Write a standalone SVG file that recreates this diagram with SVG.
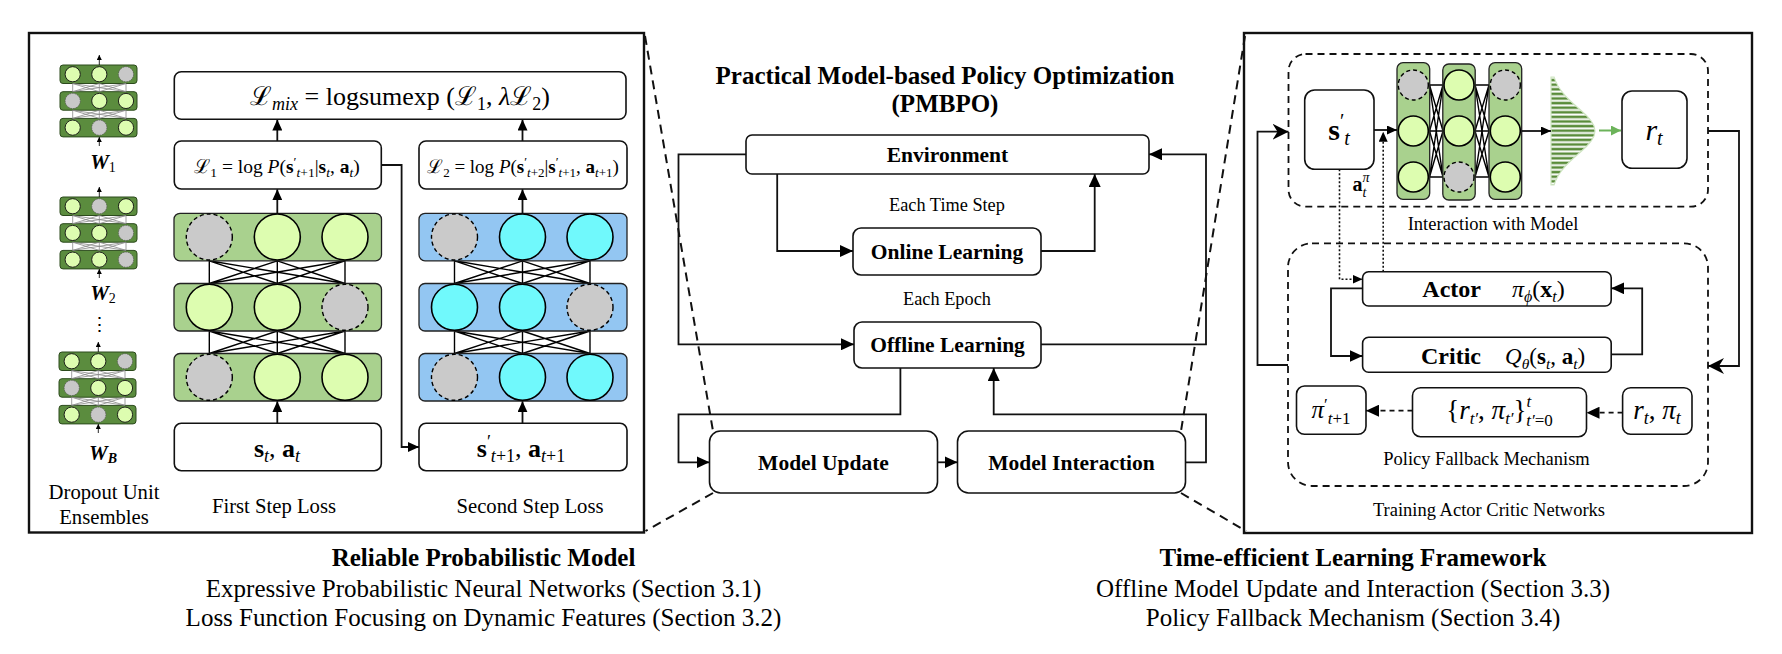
<svg xmlns="http://www.w3.org/2000/svg" xmlns:xlink="http://www.w3.org/1999/xlink" width="1782" height="654" viewBox="0 0 1782 654">
<style>
.t{font-family:"Liberation Serif","Times New Roman","DejaVu Serif",serif;fill:#000}
.b{font-weight:bold}
.i{font-style:italic}
.box{fill:#fff;stroke:#111;stroke-width:1.6}
.panel{fill:#fff;stroke:#111;stroke-width:2.4}
.conn{fill:none;stroke:#111;stroke-width:1.8}
.dash{fill:none;stroke:#111;stroke-width:2;stroke-dasharray:9 6}
.dbox{fill:none;stroke:#111;stroke-width:1.8;stroke-dasharray:7 5}
.dot{fill:none;stroke:#111;stroke-width:1.6;stroke-dasharray:2 2}
.glay{fill:#a9d18e;stroke:#222;stroke-width:1.3}
.blay{fill:#93c6f2;stroke:#222;stroke-width:1.3}
.gc{fill:#ddfdb0;stroke:#000;stroke-width:1.6}
.cc{fill:#70f9fc;stroke:#000;stroke-width:1.6}
.xc{fill:#cacaca;stroke:#000;stroke-width:1.4;stroke-dasharray:4 3}
.wire{fill:none;stroke:#000;stroke-width:1.4}
.mrow{fill:#5b8c3e;stroke:#2c4a1c;stroke-width:1}
.mg{fill:#ddfdb0;stroke:#111;stroke-width:0.9}
.mx{fill:#c8c8c8;stroke:#555;stroke-width:0.8;stroke-dasharray:1.5 1}
.mwire{fill:none;stroke:#888;stroke-width:0.8}
.marr{fill:none;stroke:#111;stroke-width:0.9}
</style>
<defs>
<marker id="am" viewBox="0 0 13 12" refX="13" refY="6" markerWidth="13" markerHeight="12" markerUnits="userSpaceOnUse" orient="auto"><path d="M0,0L13,6L0,12z" fill="#000"/></marker>
<marker id="al" viewBox="0 0 11 10" refX="11" refY="5" markerWidth="11" markerHeight="10" markerUnits="userSpaceOnUse" orient="auto"><path d="M0,0L11,5L0,10z" fill="#000"/></marker>
<marker id="as" viewBox="0 0 10 9" refX="10" refY="4.5" markerWidth="10" markerHeight="9" markerUnits="userSpaceOnUse" orient="auto"><path d="M0,0L10,4.5L0,9z" fill="#000"/></marker>
<marker id="ast" viewBox="0 0 16 16" refX="16" refY="8" markerWidth="16" markerHeight="16" markerUnits="userSpaceOnUse" orient="auto"><path d="M0,0L16,8L0,16L5,8z" fill="#000"/></marker>
<marker id="ag" viewBox="0 0 10 10" refX="10" refY="5" markerWidth="10" markerHeight="10" markerUnits="userSpaceOnUse" orient="auto"><path d="M0,0L10,5L0,10z" fill="#6cb35a"/></marker>
<marker id="ami" viewBox="0 0 6 6" refX="6" refY="3" markerWidth="5" markerHeight="5" markerUnits="userSpaceOnUse" orient="auto"><path d="M0,0L6,3L0,6z" fill="#000"/></marker>
<pattern id="stripes" width="6" height="4.6" patternUnits="userSpaceOnUse"><rect width="6" height="4.6" fill="#ffffff"/><rect y="0.6" width="6" height="2.6" fill="#5a8c3a"/></pattern>
<g id="mnBase">
<rect class="mrow" x="0" y="0" width="77" height="18.5" rx="3"/>
<rect class="mrow" x="0" y="26.7" width="77" height="18.5" rx="3"/>
<rect class="mrow" x="0" y="53.4" width="77" height="18.5" rx="3"/>
<path class="mwire" d="M12.7,18.5L12.7,26.7M12.7,18.5L39.3,26.7M12.7,18.5L66,26.7M39.3,18.5L12.7,26.7M39.3,18.5L39.3,26.7M39.3,18.5L66,26.7M66,18.5L12.7,26.7M66,18.5L39.3,26.7M66,18.5L66,26.7M12.7,45.2L12.7,53.4M12.7,45.2L39.3,53.4M12.7,45.2L66,53.4M39.3,45.2L12.7,53.4M39.3,45.2L39.3,53.4M39.3,45.2L66,53.4M66,45.2L12.7,53.4M66,45.2L39.3,53.4M66,45.2L66,53.4"/>
<path class="marr" d="M39.3,0L39.3,-10" marker-end="url(#ami)"/>
<path class="marr" d="M39.3,81L39.3,72" marker-end="url(#ami)"/>
</g>
</defs>
<rect width="1782" height="654" fill="#fff"/>

<!-- LEFT PANEL -->
<g id="panel-left">
<rect class="panel" x="29" y="33" width="615" height="499.5"/>
</g>

<g id="ensembles">
<g id="mininet-1" transform="translate(60,65)">
<use xlink:href="#mnBase" href="#mnBase"/>
<circle class="mg" cx="12.7" cy="9.25" r="7.6"/><circle class="mg" cx="39.3" cy="9.25" r="7.6"/><circle class="mx" cx="66" cy="9.25" r="7.6"/>
<circle class="mx" cx="12.7" cy="35.95" r="7.6"/><circle class="mg" cx="39.3" cy="35.95" r="7.6"/><circle class="mg" cx="66" cy="35.95" r="7.6"/>
<circle class="mg" cx="12.7" cy="62.65" r="7.6"/><circle class="mx" cx="39.3" cy="62.65" r="7.6"/><circle class="mg" cx="66" cy="62.65" r="7.6"/>
</g>
<g id="mininet-2" transform="translate(60,197)">
<use xlink:href="#mnBase" href="#mnBase"/>
<circle class="mg" cx="12.7" cy="9.25" r="7.6"/><circle class="mx" cx="39.3" cy="9.25" r="7.6"/><circle class="mg" cx="66" cy="9.25" r="7.6"/>
<circle class="mg" cx="12.7" cy="35.95" r="7.6"/><circle class="mg" cx="39.3" cy="35.95" r="7.6"/><circle class="mx" cx="66" cy="35.95" r="7.6"/>
<circle class="mg" cx="12.7" cy="62.65" r="7.6"/><circle class="mg" cx="39.3" cy="62.65" r="7.6"/><circle class="mx" cx="66" cy="62.65" r="7.6"/>
</g>
<g id="mininet-3" transform="translate(59,352)">
<use xlink:href="#mnBase" href="#mnBase"/>
<circle class="mg" cx="12.7" cy="9.25" r="7.6"/><circle class="mg" cx="39.3" cy="9.25" r="7.6"/><circle class="mx" cx="66" cy="9.25" r="7.6"/>
<circle class="mx" cx="12.7" cy="35.95" r="7.6"/><circle class="mg" cx="39.3" cy="35.95" r="7.6"/><circle class="mg" cx="66" cy="35.95" r="7.6"/>
<circle class="mg" cx="12.7" cy="62.65" r="7.6"/><circle class="mx" cx="39.3" cy="62.65" r="7.6"/><circle class="mg" cx="66" cy="62.65" r="7.6"/>
</g>
<text class="t b i" x="103" y="169" font-size="21" text-anchor="middle">W<tspan font-size="14" font-style="normal" font-weight="normal" dy="3">1</tspan></text>
<text class="t b i" x="103" y="300" font-size="21" text-anchor="middle">W<tspan font-size="14" font-style="normal" font-weight="normal" dy="3">2</tspan></text>
<text class="t" x="99" y="331" font-size="19" text-anchor="middle" font-family="DejaVu Serif">⋮</text>
<text class="t b i" x="103" y="460" font-size="21" text-anchor="middle">W<tspan font-size="14" dy="3">B</tspan></text>
<text class="t" x="104" y="498.5" font-size="20.7" text-anchor="middle">Dropout Unit</text>
<text class="t" x="104" y="523.5" font-size="20.7" text-anchor="middle">Ensembles</text>
</g>

<g id="mix-loss">
<rect class="box" x="174.3" y="71.7" width="451.7" height="47.6" rx="7"/>
<text class="t" x="400" y="105" font-size="26" text-anchor="middle">ℒ<tspan class="i" font-size="18" dy="5">mix</tspan><tspan dy="-5"> = logsumexp (ℒ</tspan><tspan font-size="18" dy="5">1</tspan><tspan dy="-5">, </tspan><tspan class="i">λ</tspan>ℒ<tspan font-size="18" dy="5">2</tspan><tspan dy="-5">)</tspan></text>
</g>

<g id="loss-1">
<rect class="box" x="174.3" y="141" width="207" height="48" rx="7"/>
<text class="t" x="277" y="172.5" font-size="19.5" text-anchor="middle">ℒ<tspan font-size="13.5" dy="4">1</tspan><tspan dy="-4"> = log </tspan><tspan class="i">P</tspan>(<tspan class="b">s</tspan><tspan font-size="13.5" dy="-7">′</tspan><tspan font-size="13.5" class="i" dy="11">t</tspan><tspan font-size="13.5">+1</tspan><tspan dy="-4">|</tspan><tspan class="b">s</tspan><tspan font-size="13.5" class="i" dy="4">t</tspan><tspan dy="-4">, </tspan><tspan class="b">a</tspan><tspan font-size="13.5" class="i" dy="4">t</tspan><tspan dy="-4">)</tspan></text>
</g>

<g id="loss-2">
<rect class="box" x="419" y="141" width="208" height="48" rx="7"/>
<text class="t" x="523" y="172.5" font-size="19" text-anchor="middle">ℒ<tspan font-size="13" dy="4">2</tspan><tspan dy="-4"> = log </tspan><tspan class="i">P</tspan>(<tspan class="b">s</tspan><tspan font-size="13" dy="-7">′</tspan><tspan font-size="13" class="i" dy="11">t</tspan><tspan font-size="13">+2</tspan><tspan dy="-4">|</tspan><tspan class="b">s</tspan><tspan font-size="13" dy="-7">′</tspan><tspan font-size="13" class="i" dy="11">t</tspan><tspan font-size="13">+1</tspan><tspan dy="-4">, </tspan><tspan class="b">a</tspan><tspan font-size="13" class="i" dy="4">t</tspan><tspan font-size="13" dy="0">+1</tspan><tspan dy="-4">)</tspan></text>
</g>

<g id="net-green">
<path class="wire" d="M209.3,260.8L209.3,283.5M209.3,260.8L277.3,283.5M209.3,260.8L345,283.5M277.3,260.8L209.3,283.5M277.3,260.8L277.3,283.5M277.3,260.8L345,283.5M345,260.8L209.3,283.5M345,260.8L277.3,283.5M345,260.8L345,283.5M209.3,331L209.3,353.5M209.3,331L277.3,353.5M209.3,331L345,353.5M277.3,331L209.3,353.5M277.3,331L277.3,353.5M277.3,331L345,353.5M345,331L209.3,353.5M345,331L277.3,353.5M345,331L345,353.5"/>
<rect class="glay" x="174" y="213.3" width="207.5" height="47.5" rx="6"/>
<rect class="glay" x="174" y="283.5" width="207.5" height="47.5" rx="6"/>
<rect class="glay" x="174" y="353.5" width="207.5" height="47.5" rx="6"/>
<circle class="xc" cx="209.3" cy="237" r="23"/><circle class="gc" cx="277.3" cy="237" r="23"/><circle class="gc" cx="345" cy="237" r="23"/>
<circle class="gc" cx="209.3" cy="307.3" r="23"/><circle class="gc" cx="277.3" cy="307.3" r="23"/><circle class="xc" cx="345" cy="307.3" r="23"/>
<circle class="xc" cx="209.3" cy="377.3" r="23"/><circle class="gc" cx="277.3" cy="377.3" r="23"/><circle class="gc" cx="345" cy="377.3" r="23"/>
</g>

<g id="net-blue">
<path class="wire" d="M454.5,260.8L454.5,283.5M454.5,260.8L522.5,283.5M454.5,260.8L590,283.5M522.5,260.8L454.5,283.5M522.5,260.8L522.5,283.5M522.5,260.8L590,283.5M590,260.8L454.5,283.5M590,260.8L522.5,283.5M590,260.8L590,283.5M454.5,331L454.5,353.5M454.5,331L522.5,353.5M454.5,331L590,353.5M522.5,331L454.5,353.5M522.5,331L522.5,353.5M522.5,331L590,353.5M590,331L454.5,353.5M590,331L522.5,353.5M590,331L590,353.5"/>
<rect class="blay" x="419" y="213.3" width="208" height="47.5" rx="6"/>
<rect class="blay" x="419" y="283.5" width="208" height="47.5" rx="6"/>
<rect class="blay" x="419" y="353.5" width="208" height="47.5" rx="6"/>
<circle class="xc" cx="454.5" cy="237" r="23"/><circle class="cc" cx="522.5" cy="237" r="23"/><circle class="cc" cx="590" cy="237" r="23"/>
<circle class="cc" cx="454.5" cy="307.3" r="23"/><circle class="cc" cx="522.5" cy="307.3" r="23"/><circle class="xc" cx="590" cy="307.3" r="23"/>
<circle class="xc" cx="454.5" cy="377.3" r="23"/><circle class="cc" cx="522.5" cy="377.3" r="23"/><circle class="cc" cx="590" cy="377.3" r="23"/>
</g>

<g id="input-1">
<rect class="box" x="174.3" y="423.3" width="207" height="47.4" rx="7"/>
<text class="t" x="277" y="457" font-size="26" text-anchor="middle"><tspan class="b">s</tspan><tspan class="i" font-size="18" dy="5">t</tspan><tspan dy="-5">, </tspan><tspan class="b">a</tspan><tspan class="i" font-size="18" dy="5">t</tspan></text>
</g>
<g id="input-2">
<rect class="box" x="419" y="423.3" width="208" height="47.4" rx="7"/>
<text class="t" x="521" y="457" font-size="26" text-anchor="middle"><tspan class="b">s</tspan><tspan font-size="18" dy="-9">′</tspan><tspan class="i" font-size="18" dy="14">t</tspan><tspan font-size="18">+1</tspan><tspan dy="-5">, </tspan><tspan class="b">a</tspan><tspan class="i" font-size="18" dy="5">t</tspan><tspan font-size="18">+1</tspan></text>
</g>
<text class="t" x="274" y="513" font-size="20.7" text-anchor="middle">First Step Loss</text>
<text class="t" x="530" y="513" font-size="20.7" text-anchor="middle">Second Step Loss</text>

<!-- MIDDLE -->
<g id="title">
<text class="t b" x="945" y="84" font-size="25" text-anchor="middle">Practical Model-based Policy Optimization</text>
<text class="t b" x="945" y="111.5" font-size="25" text-anchor="middle">(PMBPO)</text>
</g>
<g id="environment">
<rect class="box" x="746" y="135" width="403" height="39" rx="6"/>
<text class="t b" x="947.5" y="161.5" font-size="21.5" text-anchor="middle">Environment</text>
</g>
<g id="online-learning">
<rect class="box" x="853" y="228" width="188" height="47" rx="8"/>
<text class="t b" x="947" y="258.5" font-size="21.5" text-anchor="middle">Online Learning</text>
</g>
<g id="offline-learning">
<rect class="box" x="854" y="322" width="187" height="46" rx="8"/>
<text class="t b" x="947.5" y="351.5" font-size="21.5" text-anchor="middle">Offline Learning</text>
</g>
<g id="model-update">
<rect class="box" x="709.5" y="431" width="228" height="62" rx="11"/>
<text class="t b" x="823.5" y="469.5" font-size="21.5" text-anchor="middle">Model Update</text>
</g>
<g id="model-interaction">
<rect class="box" x="957.5" y="431" width="228" height="62" rx="11"/>
<text class="t b" x="1071.5" y="469.5" font-size="21.5" text-anchor="middle">Model Interaction</text>
</g>
<text class="t" x="947" y="211" font-size="18.3" text-anchor="middle">Each Time Step</text>
<text class="t" x="947" y="304.5" font-size="18.3" text-anchor="middle">Each Epoch</text>

<!-- RIGHT PANEL -->
<g id="panel-right">
<rect class="panel" x="1244" y="33" width="508" height="500"/>
<rect class="dbox" x="1288.5" y="54" width="419.5" height="152.7" rx="17"/>
<rect class="dbox" x="1288" y="243.3" width="420" height="242.7" rx="24"/>
<text class="t" x="1493" y="229.5" font-size="18.5" text-anchor="middle">Interaction with Model</text>
<text class="t" x="1486.5" y="465" font-size="18.5" text-anchor="middle">Policy Fallback Mechanism</text>
<text class="t" x="1489" y="515.5" font-size="18.5" text-anchor="middle">Training Actor Critic Networks</text>
</g>
<g id="state-box">
<rect class="box" x="1304.7" y="90" width="69.3" height="79.3" rx="10"/>
<text class="t" x="1339" y="140" font-size="30" text-anchor="middle"><tspan class="b">s</tspan><tspan font-size="20" dy="-12">′</tspan><tspan class="i" font-size="20" dy="17">t</tspan></text>
</g>
<g id="model-net">
<path class="wire" d="M1429.5,85L1443,85M1429.5,85L1443,131M1429.5,85L1443,177M1429.5,131L1443,85M1429.5,131L1443,131M1429.5,131L1443,177M1429.5,177L1443,85M1429.5,177L1443,131M1429.5,177L1443,177M1475,85L1489,85M1475,85L1489,131M1475,85L1489,177M1475,131L1489,85M1475,131L1489,131M1475,131L1489,177M1475,177L1489,85M1475,177L1489,131M1475,177L1489,177"/>
<rect class="glay" x="1397" y="62.7" width="32.7" height="136.6" rx="6"/>
<rect class="glay" x="1442.8" y="64" width="32.4" height="136" rx="6"/>
<rect class="glay" x="1489" y="62.7" width="32.7" height="136.6" rx="6"/>
<circle class="xc" cx="1413.3" cy="85" r="15"/><circle class="gc" cx="1413.3" cy="131" r="15"/><circle class="gc" cx="1413.3" cy="177" r="15"/>
<circle class="gc" cx="1459" cy="85" r="15"/><circle class="gc" cx="1459" cy="131" r="15"/><circle class="xc" cx="1459" cy="177" r="15"/>
<circle class="xc" cx="1505.3" cy="85" r="15"/><circle class="gc" cx="1505.3" cy="131" r="15"/><circle class="gc" cx="1505.3" cy="177" r="15"/>
</g>
<g id="gaussian">
<path d="M1551,77L1554.1,77L1555.5,81L1558,86L1561.3,91L1565.4,96L1570.4,101L1575.9,106L1581.6,111L1586.9,116L1591.2,121L1594,126L1595,131L1594,136L1591.2,141L1586.9,146L1581.6,151L1575.9,156L1570.4,161L1565.4,166L1561.3,171L1558,176L1555.5,181L1554.1,185L1551,185Z" fill="url(#stripes)" stroke="#cfe6c2" stroke-width="1.2"/>
</g>
<g id="reward-box">
<rect class="box" x="1622" y="91" width="65" height="77.3" rx="10"/>
<text class="t" x="1654" y="140" font-size="30" text-anchor="middle"><tspan class="i">r</tspan><tspan class="i" font-size="20" dy="5">t</tspan></text>
</g>
<text class="t" x="1361" y="191" font-size="20" text-anchor="middle"><tspan class="b">a</tspan><tspan class="i" font-size="14" dy="-9">π</tspan><tspan class="i" font-size="14" dx="-7" dy="15">t</tspan></text>
<g id="actor">
<rect class="box" x="1362.6" y="271.7" width="248.6" height="34.3" rx="6"/>
<text class="t b" x="1481" y="297" font-size="24" text-anchor="end">Actor</text>
<text class="t" x="1512" y="297" font-size="24"><tspan class="i">π</tspan><tspan class="i" font-size="16" dy="5">ϕ</tspan><tspan dy="-5">(</tspan><tspan class="b">x</tspan><tspan class="i" font-size="16" dy="5">t</tspan><tspan dy="-5">)</tspan></text>
</g>
<g id="critic">
<rect class="box" x="1362.6" y="337.3" width="248.6" height="35" rx="6"/>
<text class="t b" x="1481" y="364" font-size="24" text-anchor="end">Critic</text>
<text class="t" x="1505" y="364" font-size="23"><tspan class="i">Q</tspan><tspan class="i" font-size="15.5" dy="5">θ</tspan><tspan dy="-5">(</tspan><tspan class="b">s</tspan><tspan class="i" font-size="15.5" dy="5">t</tspan><tspan dy="-5">, </tspan><tspan class="b">a</tspan><tspan class="i" font-size="15.5" dy="5">t</tspan><tspan dy="-5">)</tspan></text>
</g>
<g id="policy-next">
<rect class="box" x="1296.5" y="386" width="69.5" height="48.3" rx="8"/>
<text class="t" x="1331" y="418" font-size="25" text-anchor="middle"><tspan class="i">π</tspan><tspan font-size="17" dy="-8">′</tspan><tspan class="i" font-size="17" dy="14">t</tspan><tspan font-size="17">+1</tspan></text>
</g>
<g id="history">
<rect class="box" x="1412.5" y="387.7" width="174" height="49" rx="8"/>
<text class="t" x="1499.5" y="419" font-size="27" text-anchor="middle">{<tspan class="i">r</tspan><tspan class="i" font-size="17" dy="5">t′</tspan><tspan dy="-5">, </tspan><tspan class="i">π</tspan><tspan class="i" font-size="17" dy="5">t′</tspan><tspan dy="-5">}</tspan><tspan class="i" font-size="17" dy="-12">t</tspan><tspan class="i" font-size="17" dx="-5" dy="19">t′</tspan><tspan font-size="17">=0</tspan></text>
</g>
<g id="reward-policy">
<rect class="box" x="1622.6" y="387.7" width="69.4" height="46.6" rx="8"/>
<text class="t" x="1657" y="419" font-size="27" text-anchor="middle"><tspan class="i">r</tspan><tspan class="i" font-size="18" dy="5">t</tspan><tspan dy="-5">, </tspan><tspan class="i">π</tspan><tspan class="i" font-size="18" dy="5">t</tspan></text>
</g>

<!-- CONNECTORS -->
<g id="connectors">
<path class="conn" d="M277.3,141L277.3,119.5" marker-end="url(#al)"/>
<path class="conn" d="M522.5,141L522.5,119.5" marker-end="url(#al)"/>
<path class="conn" d="M277.3,213.3L277.3,189.2" marker-end="url(#al)"/>
<path class="conn" d="M522.5,213.3L522.5,189.2" marker-end="url(#al)"/>
<path class="conn" d="M277.3,423.3L277.3,401.2" marker-end="url(#al)"/>
<path class="conn" d="M522.5,423.3L522.5,401.2" marker-end="url(#al)"/>
<path class="conn" d="M381.3,165L401.6,165L401.6,447L419,447" marker-end="url(#al)"/>

<path class="conn" d="M746,154.3L678.5,154.3L678.5,344.3L854,344.3" marker-end="url(#am)"/>
<path class="conn" d="M777.2,174L777.2,251L853,251" marker-end="url(#am)"/>
<path class="conn" d="M1041,251L1094.7,251L1094.7,174" marker-end="url(#am)"/>
<path class="conn" d="M1041,344.3L1206,344.3L1206,154.3L1149,154.3" marker-end="url(#am)"/>
<path class="conn" d="M900.4,368L900.4,414.3L678.5,414.3L678.5,462.3L709.5,462.3" marker-end="url(#am)"/>
<path class="conn" d="M937.5,462.3L957.5,462.3" marker-end="url(#am)"/>
<path class="conn" d="M1185.5,462.3L1206,462.3L1206,414.3L993.7,414.3L993.7,368" marker-end="url(#am)"/>

<path class="dash" d="M645,36L713,431"/>
<path class="dash" d="M713,493L645.5,531"/>
<path class="dash" d="M1245,36L1181,431"/>
<path class="dash" d="M1181,493L1246,531"/>

<path class="conn" d="M1288,365L1257.5,365L1257.5,131.7L1288.5,131.7" marker-end="url(#ast)"/>
<path class="conn" d="M1708,131L1739,131L1739,366L1708,366" marker-end="url(#ast)"/>
<path class="conn" d="M1374,130L1397,130" marker-end="url(#as)"/>
<path class="conn" d="M1521.7,131L1551,131" marker-end="url(#as)"/>
<path fill="none" stroke="#6cb35a" stroke-width="2" d="M1599,130.5L1621,130.5" marker-end="url(#ag)"/>
<path class="dot" d="M1339.5,169.3L1339.5,279.3L1362.6,279.3" marker-end="url(#as)"/>
<path class="dot" d="M1383.2,271.7L1383.2,131.7" marker-end="url(#as)"/>
<path class="conn" d="M1362.6,288.3L1331,288.3L1331,356L1362.6,356" marker-end="url(#am)"/>
<path class="conn" d="M1611.2,354.3L1642.2,354.3L1642.2,288.3L1611.2,288.3" marker-end="url(#am)"/>
<path class="conn" stroke-dasharray="5 4" d="M1412.5,410.7L1366,410.7" marker-end="url(#am)"/>
<path class="conn" stroke-dasharray="5 4" d="M1622.6,412.7L1586.5,412.7" marker-end="url(#am)"/>
</g>

<!-- CAPTIONS -->
<g id="captions">
<text class="t b" x="483.5" y="566" font-size="25" text-anchor="middle">Reliable Probabilistic Model</text>
<text class="t" x="483.5" y="596.5" font-size="25" text-anchor="middle">Expressive Probabilistic Neural Networks (Section 3.1)</text>
<text class="t" x="483.5" y="625.5" font-size="25" text-anchor="middle">Loss Function Focusing on Dynamic Features (Section 3.2)</text>
<text class="t b" x="1353" y="566" font-size="25" text-anchor="middle">Time-efficient Learning Framework</text>
<text class="t" x="1353" y="596.5" font-size="25" text-anchor="middle">Offline Model Update and Interaction (Section 3.3)</text>
<text class="t" x="1353" y="625.5" font-size="25" text-anchor="middle">Policy Fallback Mechanism (Section 3.4)</text>
</g>
</svg>
